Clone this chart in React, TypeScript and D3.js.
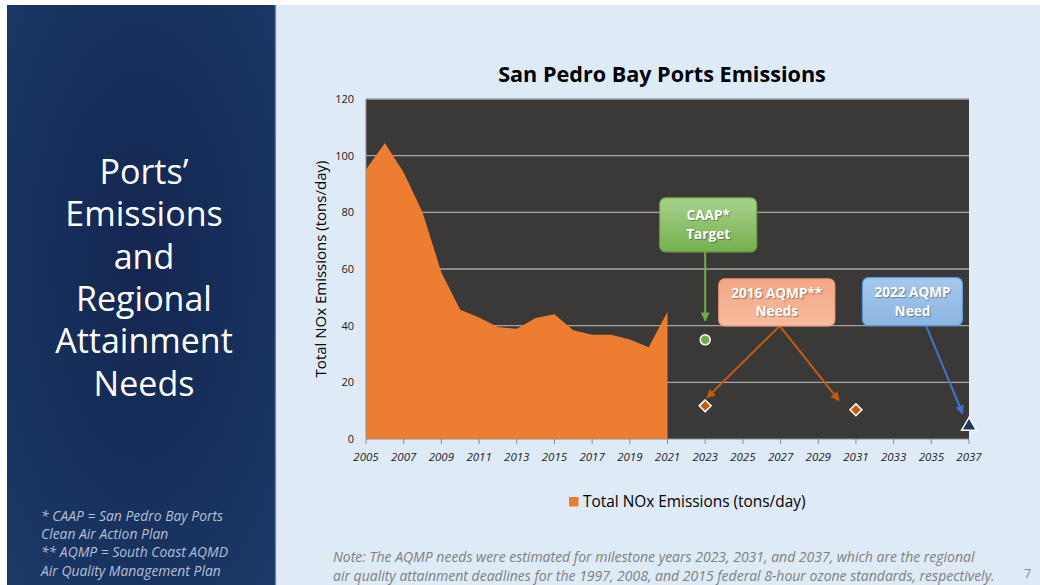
import React from "react";
import * as d3 from "d3";

// emissions history (tons/day)
const years = [2005, 2006, 2007, 2008, 2009, 2010, 2011, 2012, 2013, 2014, 2015, 2016, 2017, 2018, 2019, 2020, 2021];
const noxEmissions = [95.1, 104.5, 94.1, 80, 58.8, 45.6, 42.9, 39.5, 38.9, 42.7, 44, 38.4, 36.8, 36.8, 35.1, 32.4, 44.9];

// targets / needs
const caapTarget = [{ year: 2023, value: 35 }];
const aqmp2016Needs = [
  { year: 2023, value: 11.7 },
  { year: 2031, value: 10.3 },
];
const aqmp2022Need = [{ year: 2037, value: 4.6 }];

const yTicks = [0, 20, 40, 60, 80, 100, 120];
const xTicks = [2005, 2007, 2009, 2011, 2013, 2015, 2017, 2019, 2021, 2023, 2025, 2027, 2029, 2031, 2033, 2035, 2037];

const titleLines = ["Ports\u2019", "Emissions", "and", "Regional", "Attainment", "Needs"];
const footLines = [
  "* CAAP = San Pedro Bay Ports",
  "Clean Air Action Plan",
  "** AQMP = South Coast AQMD",
  "Air Quality Management Plan",
];
const noteLines = [
  "Note: The AQMP needs were estimated for milestone years 2023, 2031, and 2037, which are the regional",
  "air quality attainment deadlines for the 1997, 2008, and 2015 federal 8-hour ozone standards, respectively.",
];

// callout boxes, anchored in data units
const callouts = [
  {
    id: "green",
    lines: ["CAAP*", "Target"],
    year: 2023.16,
    value: 75.6,
    w: 97,
    h: 54,
    top: "#a9d18e",
    bottom: "#75b04d",
    stroke: "#6aa444",
    arrow: "#70ad47",
    arrows: [{ fromYear: 2023, toYear: 2023, toValue: 41.8 }],
  },
  {
    id: "orange",
    lines: ["2016 AQMP**", "Needs"],
    year: 2026.8,
    value: 48.2,
    w: 116,
    h: 47,
    top: "#f3a683",
    bottom: "#f7bd9f",
    stroke: "#f0a07a",
    arrow: "#c55a11",
    arrows: [
      { fromYear: 2026.95, toYear: 2023.1, toValue: 14.6 },
      { fromYear: 2026.95, toYear: 2030.1, toValue: 13.6 },
    ],
  },
  {
    id: "blue",
    lines: ["2022 AQMP", "Need"],
    year: 2034.0,
    value: 48.5,
    w: 100,
    h: 48,
    top: "#a7c8ec",
    bottom: "#8cb5e2",
    stroke: "#5b9bd5",
    arrow: "#4472c4",
    arrows: [{ fromYear: 2034.72, toYear: 2036.66, toValue: 9 }],
  },
];

const font = "'Open Sans', 'DejaVu Sans', sans-serif";

export default function App() {
  const width = 1040;
  const height = 585;
  const margin = { left: 366, right: 969, top: 99, bottom: 439 };

  const x = d3.scaleLinear().domain([2005, 2037]).range([margin.left, margin.right]);
  const y = d3.scaleLinear().domain([0, 120]).range([margin.bottom, margin.top]);

  const series = years.map((yr, i) => ({ year: yr, value: noxEmissions[i] }));
  const area = d3
    .area<{ year: number; value: number }>()
    .x((d) => x(d.year))
    .y0(y(0))
    .y1((d) => y(d.value));

  const diamond = d3.symbol().type(d3.symbolDiamond2).size(90);
  const triangle = d3.symbol().type(d3.symbolTriangle).size(95);

  return (
    <svg
      width={width}
      height={height}
      style={{ position: "absolute", left: 0, top: 0, fontFamily: font }}
    >
      <defs>
        <radialGradient id="panel" cx="50%" cy="45%" r="75%">
          <stop offset="0%" stopColor="#132650" />
          <stop offset="100%" stopColor="#1c3968" />
        </radialGradient>
        {callouts.map((c) => (
          <linearGradient key={c.id} id={"g-" + c.id} x1="0" y1="0" x2="0" y2="1">
            <stop offset="0%" stopColor={c.top} />
            <stop offset="100%" stopColor={c.bottom} />
          </linearGradient>
        ))}
        {callouts.map((c) => (
          <marker
            key={c.id}
            id={"m-" + c.id}
            viewBox="0 0 10 10"
            refX="9"
            refY="5"
            markerWidth="9"
            markerHeight="9"
            markerUnits="userSpaceOnUse"
            orient="auto"
          >
            <path d="M0,0 L10,5 L0,10 z" fill={c.arrow} />
          </marker>
        ))}
      </defs>

      {/* page */}
      <rect x={0} y={0} width={width} height={height} fill="#ffffff" />
      <rect x={7} y={5} width={269} height={580} fill="url(#panel)" />
      <line x1={275.5} x2={275.5} y1={5} y2={585} stroke="#5d7fb8" strokeWidth={1.5} />
      <rect x={277} y={5} width={763} height={580} fill="#deeaf6" />

      {/* left title */}
      {titleLines.map((t, i) => (
        <text
          key={t}
          x={144}
          y={184 + i * 42.3}
          textAnchor="middle"
          fill="#ffffff"
          fontSize={34}
        >
          {t}
        </text>
      ))}
      {footLines.map((t, i) => (
        <text key={t} x={41} y={521 + i * 18.2} fill="#b3bfd6" fontSize={13.9} fontStyle="italic">
          {t}
        </text>
      ))}

      {/* chart title */}
      <text x={662} y={82} textAnchor="middle" fontSize={21.6} fontWeight="bold" fill="#000">
        San Pedro Bay Ports Emissions
      </text>

      {/* plot background */}
      <rect
        x={margin.left}
        y={margin.top}
        width={margin.right - margin.left}
        height={margin.bottom - margin.top}
        fill="#3b3938"
      />
      {yTicks.slice(1).map((t) => (
        <line
          key={t}
          x1={margin.left}
          x2={margin.right}
          y1={y(t)}
          y2={y(t)}
          stroke="#a5a5a5"
          strokeWidth={1.3}
        />
      ))}

      <path d={area(series) || ""} fill="#ed7d31" />

      {/* axes */}
      <line x1={margin.left} x2={margin.left} y1={margin.top} y2={margin.bottom} stroke="#8c8c8c" />
      <line x1={margin.left} x2={margin.right} y1={y(0)} y2={y(0)} stroke="#8c8c8c" />
      {xTicks.map((t) => (
        <g key={t}>
          <line x1={x(t)} x2={x(t)} y1={y(0)} y2={y(0) + 5} stroke="#8c8c8c" />
          <text
            x={x(t)}
            y={y(0) + 22}
            textAnchor="middle"
            fontSize={11.5}
            fontStyle="italic"
            fill="#1a1a1a"
          >
            {t}
          </text>
        </g>
      ))}
      {yTicks.map((t) => (
        <text key={t} x={354} y={y(t) + 4} textAnchor="end" fontSize={11} fill="#1a1a1a">
          {t}
        </text>
      ))}
      <text
        transform={`translate(326,${(margin.top + margin.bottom) / 2}) rotate(-90)`}
        textAnchor="middle"
        fontSize={15}
        fill="#000"
      >
        Total NOx Emissions (tons/day)
      </text>

      {/* callouts */}
      {callouts.map((c) => {
        const cx = x(c.year);
        const cy = y(c.value);
        const bx = cx - c.w / 2;
        const by = cy - c.h / 2;
        return (
          <g key={c.id}>
            {c.arrows.map((a, i) => (
              <line
                key={i}
                x1={x(a.fromYear)}
                y1={by + c.h}
                x2={x(a.toYear)}
                y2={y(a.toValue)}
                stroke={c.arrow}
                strokeWidth={2}
                markerEnd={`url(#m-${c.id})`}
              />
            ))}
            <rect
              x={bx}
              y={by}
              width={c.w}
              height={c.h}
              rx={6}
              fill={`url(#g-${c.id})`}
              stroke={c.stroke}
              strokeWidth={1.2}
            />
            {c.lines.map((l, i) => (
              <text
                key={l}
                x={cx}
                y={cy + (i - (c.lines.length - 1) / 2) * 18.5 + 4.8}
                textAnchor="middle"
                fontSize={13.6}
                fontWeight="bold"
                fill="#ffffff"
                style={{ textShadow: "1px 1px 1px rgba(0,0,0,0.35)" }}
              >
                {l}
              </text>
            ))}
          </g>
        );
      })}

      {/* markers */}
      {caapTarget.map((d) => (
        <circle key={d.year} cx={x(d.year)} cy={y(d.value)} r={5} fill="#70ad47" stroke="#ffffff" strokeWidth={1.5} />
      ))}
      {aqmp2016Needs.map((d) => (
        <path
          key={d.year}
          d={diamond() || ""}
          transform={`translate(${x(d.year)},${y(d.value)})`}
          fill="#c55a11"
          stroke="#ffffff"
          strokeWidth={1.5}
        />
      ))}
      {aqmp2022Need.map((d) => (
        <path
          key={d.year}
          d={triangle() || ""}
          transform={`translate(${x(d.year)},${y(d.value)})`}
          fill="#1f3864"
          stroke="#ffffff"
          strokeWidth={1.5}
        />
      ))}

      {/* legend */}
      <rect x={569} y={497} width={9.5} height={9.5} fill="#ed7d31" />
      <text x={583} y={507} fontSize={15.4} fill="#000">
        Total NOx Emissions (tons/day)
      </text>

      {/* note */}
      {noteLines.map((t, i) => (
        <text key={i} x={333} y={562 + i * 18.5} fontSize={14} fontStyle="italic" fill="#7f7f7f">
          {t}
        </text>
      ))}
      <text x={1024} y={578} fontSize={13} fill="#8c8c8c">
        7
      </text>
    </svg>
  );
}
